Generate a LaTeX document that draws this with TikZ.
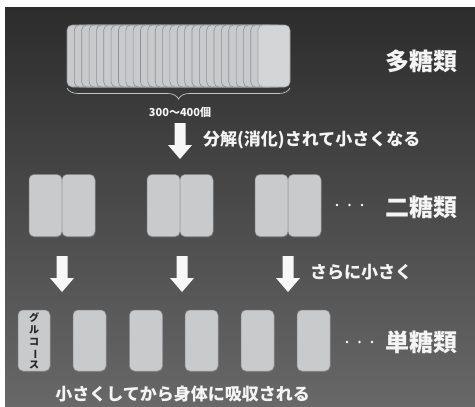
\documentclass[tikz,border=0pt]{standalone}
\usepackage{fontspec}
\setmainfont{Noto Sans CJK JP}
\usetikzlibrary{decorations.pathreplacing,shadows}
\definecolor{cardc}{HTML}{C9CACC}
\definecolor{cardedge}{HTML}{8E8F92}
\definecolor{bgtop}{HTML}{2C2C2C}
\definecolor{bgbot}{HTML}{686869}
\definecolor{txtc}{HTML}{F4F4F4}
\begin{document}
\begin{tikzpicture}[x=1pt,y=-1pt,
  card/.style={fill=cardc,draw=cardedge,line width=0.5pt,rounded corners=5pt,
    minimum width=33pt,minimum height=62pt,inner sep=0pt,outer sep=0pt,
    drop shadow={opacity=0.35,shadow xshift=0.6pt,shadow yshift=-1.2pt}},
  stackcard/.style={fill=cardc,draw=cardedge,line width=0.6pt,rounded corners=5pt,
    minimum width=32pt,minimum height=62pt,inner sep=0pt,outer sep=0pt},
  lbl/.style={text=txtc,font=\bfseries\fontsize{17pt}{20pt}\selectfont,inner sep=0pt},
  biglbl/.style={text=txtc,font=\bfseries\fontsize{24pt}{28pt}\selectfont,inner sep=0pt},
  downarrow/.pic={\fill[white!94!gray] (-5.5,0) -- (5.5,0) -- (5.5,22) -- (12,22) -- (0,36) -- (-12,22) -- (-5.5,22) -- cycle;},
  dotc/.style={fill=white}
]
\useasboundingbox (0,0) rectangle (475,407);
\fill[white] (0,0) rectangle (475,407);
\shade[top color=bgtop,bottom color=bgbot] (5,7) rectangle (475,407);

% polysaccharide stack
\foreach \i in {0,...,25}{
  \node[stackcard] (s\i) at ({83+7.35*\i},56) {};
}
\node[stackcard,fill=cardc!80!white,draw=cardedge!70!cardc] (sfront) at (274,56) {};
\coordinate (bl) at (67,88);
\coordinate (br) at (290,88);
\draw[decorate,decoration={brace,mirror,amplitude=11pt,aspect=0.5},draw=gray!45,line width=0.7pt] (bl) -- (br);
\node[text=txtc,font=\bfseries\fontsize{11pt}{13pt}\selectfont,inner sep=0pt] (cnt) at (180,112) {300〜400個};
\node[biglbl] (poly) at (421,61) {多糖類};

% arrow 1
\pic at (180,123) {downarrow};
\node[lbl,anchor=west] (t1) at (203,140) {分解(消化)されて小さくなる};

% disaccharides
\node[card] (d1a) at (45.5,205.5) {};
\node[card] (d1b) at (78.5,205.5) {};
\node[card] (d2a) at (163.5,205.5) {};
\node[card] (d2b) at (196.5,205.5) {};
\node[card] (d3a) at (271.5,205.5) {};
\node[card] (d3b) at (304.5,205.5) {};
\foreach \x in {337,349.5,362}{\fill[dotc] (\x,205) circle (1.3pt);}
\node[biglbl] (di) at (421,207) {二糖類};

% arrows row 2
\pic at (62,256) {downarrow};
\pic at (182,256) {downarrow};
\pic at (288,256) {downarrow};
\node[lbl,anchor=west] (t2) at (310,272) {さらに小さく};

% monosaccharides
\node[card,minimum width=32pt,minimum height=61pt] (g) at (34,340.5) {};
\node[font=\bfseries\fontsize{10pt}{11.6pt}\selectfont,text=black!85,align=center,inner sep=0pt] (glab) at (34,341)
  {グ\\ル\\コ\\\rotatebox[origin=c]{-90}{ー}\\ス};
\node[card,minimum height=61pt] (m1) at (89.5,340.5) {};
\node[card,minimum height=61pt] (m2) at (146,340.5) {};
\node[card,minimum height=61pt] (m3) at (201.5,340.5) {};
\node[card,minimum height=61pt] (m4) at (257.5,340.5) {};
\node[card,minimum height=61pt] (m5) at (313.5,340.5) {};
\foreach \x in {347,359.5,372}{\fill[dotc] (\x,342) circle (1.3pt);}
\node[biglbl] (mono) at (421,342) {単糖類};

\node[lbl] (t3) at (182.5,394) {小さくしてから身体に吸収される};
\end{tikzpicture}
\end{document}
